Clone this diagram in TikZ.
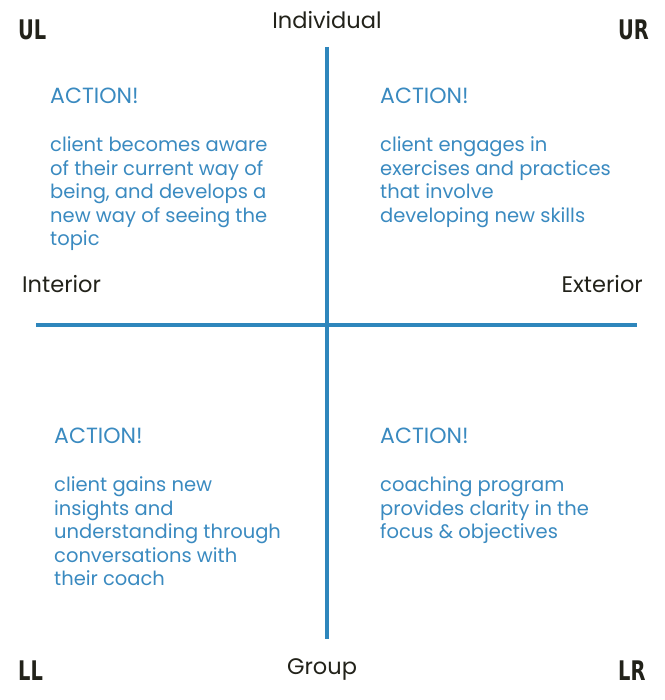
\documentclass[tikz,border=0pt]{standalone}
\usepackage{fontspec}
\usepackage{xcolor}
\setmainfont{Poppins}
\newfontfamily\cornerfont{DejaVu Sans Condensed}[FakeStretch=0.8]
\definecolor{axisblue}{HTML}{2E86BC}
\definecolor{textblue}{HTML}{3A8AC0}
\definecolor{darkink}{HTML}{22221A}
\newcommand{\actionhead}{{\fontsize{22}{24}\selectfont ACTION!}\\[24.5pt]}

\begin{document}
\begin{tikzpicture}[x=1pt,y=-1pt]
\tikzset{axis line/.style={draw=axisblue,line width=4.5pt}}
\tikzset{quad text/.style={anchor=north west,align=left,text=textblue,inner sep=0pt,font=\fontsize{19.5}{23.5}\selectfont}}
\tikzset{side label/.style={text=darkink,inner sep=0pt,anchor=base,font=\fontsize{22.5}{24}\selectfont}}
\tikzset{corner label/.style={text=darkink,inner sep=0pt,anchor=base west,font=\cornerfont\bfseries\fontsize{27}{28}\selectfont}}

\useasboundingbox (0,0) rectangle (664,700);

% axes
\coordinate (top) at (327,47);
\coordinate (bottom) at (327,639);
\coordinate (left) at (36,325);
\coordinate (right) at (637,325);
\draw[axis line] (left) -- (right);
\draw[axis line,line width=3.4pt] (top) -- (bottom);

% axis labels
\node[side label] (individual) at (327,29) {Individual};
\node[side label] (group) at (322,674) {Group};
\node[side label,anchor=base west] (interior) at (22,292) {Interior};
\node[side label,anchor=base east] (exterior) at (643,292) {Exterior};

% corners
\node[corner label] (ul) at (18,40) {UL};
\node[corner label] (ur) at (618,40) {UR};
\node[corner label] (ll) at (18,680) {LL};
\node[corner label] (lr) at (618,680) {LR};

% quadrants
\node[quad text] (ultext) at (50,88) {\actionhead client becomes aware\\of their current way of\\being, and develops a\\new way of seeing the\\topic};
\node[quad text] (urtext) at (380,88) {\actionhead client engages in\\exercises and practices\\that involve\\developing new skills};
\node[quad text] (lltext) at (54,428) {\actionhead client gains new\\insights and\\understanding through\\conversations with\\their coach};
\node[quad text] (lrtext) at (380,428) {\actionhead coaching program\\provides clarity in the\\focus \& objectives};

\end{tikzpicture}
\end{document}
